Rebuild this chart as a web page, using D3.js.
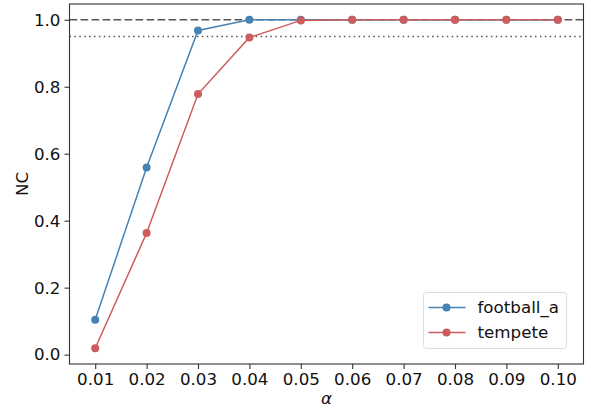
<!DOCTYPE html>
<html>
<head>
<meta charset="utf-8">
<script src="https://cdn.jsdelivr.net/npm/d3@7"></script>
<style>
  body { margin: 0; background: #fff; }
  svg { display: block; font-family: "DejaVu Sans", sans-serif; }
</style>
</head>
<body>
<div id="chart"></div>
<script>
// data
const alphas = [0.01, 0.02, 0.03, 0.04, 0.05, 0.06, 0.07, 0.08, 0.09, 0.10];
const football = [0.104, 0.559, 0.968, 1.0, 1.0, 1.0, 1.0, 1.0, 1.0, 1.0];
const tempete = [0.019, 0.363, 0.778, 0.947, 0.998, 1.0, 1.0, 1.0, 1.0, 1.0];
const xTicks = [0.01, 0.02, 0.03, 0.04, 0.05, 0.06, 0.07, 0.08, 0.09, 0.10];
const yTicks = [0.0, 0.2, 0.4, 0.6, 0.8, 1.0];
const refLines = [
    { value: 1.0, dash: "7.7,3.3" },
    { value: 0.95, dash: "1.5,3.4" }
];

const width = 591, height = 410;
const margin = { top: 4, right: 7.5, bottom: 46, left: 69.5 };

const svg = d3.select("#chart")
    .append("svg")
    .attr("width", width)
    .attr("height", height);

// Scales (matplotlib-style padding)
const x = d3.scaleLinear()
    .domain([0.005, 0.105])
    .range([margin.left, width - margin.right]);
const y = d3.scaleLinear()
    .domain([-0.028, 1.047])
    .range([height - margin.bottom, margin.top]);

// Reference lines
svg.append("g")
    .selectAll("line")
    .data(refLines)
    .join("line")
    .attr("x1", margin.left)
    .attr("x2", width - margin.right)
    .attr("y1", d => y(d.value))
    .attr("y2", d => y(d.value))
    .attr("stroke", "#555")
    .attr("stroke-width", 1.4)
    .attr("stroke-dasharray", d => d.dash);

const series = [
    { name: "football_a", values: football, color: "#4682b4" },
    { name: "tempete", values: tempete, color: "#cd5c5c" }
];

const line = d3.line()
    .x((d, i) => x(alphas[i]))
    .y(d => y(d));

const gSeries = svg.append("g");
series.forEach(s => {
    const g = gSeries.append("g");
    g.append("path")
        .datum(s.values)
        .attr("fill", "none")
        .attr("stroke", s.color)
        .attr("stroke-width", 1.5)
        .attr("d", line);
    g.selectAll("circle")
        .data(s.values)
        .join("circle")
        .attr("cx", (d, i) => x(alphas[i]))
        .attr("cy", d => y(d))
        .attr("r", 4)
        .attr("fill", s.color);
});

// Axes
const gx = svg.append("g")
    .attr("transform", `translate(0, ${height - margin.bottom})`)
    .call(d3.axisBottom(x).tickValues(xTicks).tickFormat(d3.format(".2f")).tickSizeOuter(0).tickSize(5).tickPadding(4));
const gy = svg.append("g")
    .attr("transform", `translate(${margin.left}, 0)`)
    .call(d3.axisLeft(y).tickValues(yTicks).tickFormat(d3.format(".1f")).tickSizeOuter(0).tickSize(5).tickPadding(4));

[gx, gy].forEach(g => {
    g.select(".domain").remove();
    g.selectAll(".tick line").attr("stroke", "#333").attr("stroke-width", 1.1);
    g.selectAll(".tick text")
        .attr("fill", "#111")
        .style("font-size", "16.7px")
        .style("font-family", "'DejaVu Sans', sans-serif");
});

// frame
svg.append("rect")
    .attr("x", margin.left)
    .attr("y", margin.top)
    .attr("width", width - margin.right - margin.left)
    .attr("height", height - margin.bottom - margin.top)
    .attr("fill", "none")
    .attr("stroke", "#333")
    .attr("stroke-width", 1.1);

// Labels
svg.append("text")
    .attr("transform", `translate(28, ${(margin.top + height - margin.bottom) / 2}) rotate(-90)`)
    .attr("text-anchor", "middle")
    .attr("fill", "#111")
    .style("font-size", "16.7px")
    .text("NC");

svg.append("text")
    .attr("x", (margin.left + width - margin.right) / 2)
    .attr("y", 404)
    .attr("text-anchor", "middle")
    .attr("fill", "#111")
    .style("font-size", "16.7px")
    .style("font-style", "italic")
    .text("α");

// Legend
const legend = svg.append("g").attr("transform", "translate(423.5, 292.5)");
legend.append("rect")
    .attr("width", 143)
    .attr("height", 56)
    .attr("rx", 3)
    .attr("fill", "#fff")
    .attr("fill-opacity", 0.8)
    .attr("stroke", "#ddd");

const items = legend.selectAll("g.item")
    .data(series)
    .join("g")
    .attr("class", "item")
    .attr("transform", (d, i) => `translate(0, ${15 + i * 25})`);
items.append("line")
    .attr("x1", 5).attr("x2", 42)
    .attr("stroke", d => d.color)
    .attr("stroke-width", 1.5);
items.append("circle")
    .attr("cx", 23).attr("r", 4)
    .attr("fill", d => d.color);
items.append("text")
    .attr("x", 54)
    .attr("dy", "0.35em")
    .attr("fill", "#111")
    .style("font-size", "16.7px")
    .text(d => d.name);
</script>
</body>
</html>
